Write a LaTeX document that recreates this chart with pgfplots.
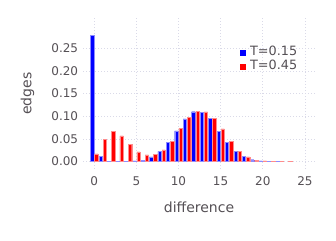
\documentclass[border=0pt]{standalone}
\usepackage{pgfplots}
\pgfplotsset{compat=1.18}
\usepackage{fontspec}
\setmainfont{DejaVu Sans}
\definecolor{txt}{RGB}{85,80,85}
\definecolor{grd}{RGB}{218,218,232}
\begin{document}
\begin{tikzpicture}
\useasboundingbox (-83pt,-71pt) rectangle (253pt,169pt);
\begin{axis}[
  at={(0,0)}, anchor=south west,
  scale only axis, width=232pt, height=151pt,
  xmin=-1.33, xmax=26.2, ymin=-0.0166, ymax=0.317,
  axis line style={draw=none},
  major tick length=0pt,
  xtick={0,5,...,25}, ytick={0,0.05,0.1,0.15,0.2,0.25},
  /pgf/number format/assume math mode=true,
  yticklabel style={/pgf/number format/fixed,/pgf/number format/fixed zerofill,/pgf/number format/precision=2},
  xticklabel style={inner sep=0pt, anchor=north, yshift=-7.5pt},
  yticklabel style={inner sep=0pt, anchor=east, xshift=-4.7pt},
  ticklabel style={font=\fontsize{12}{14}\selectfont, text=txt},
  grid=major, grid style={dash pattern=on 1pt off 2pt, grd, line width=0.7pt},
  xlabel={difference}, ylabel={edges},
  label style={font=\fontsize{14}{16}\selectfont, text=txt},
  xlabel style={at={([yshift=-38.5pt]axis description cs:0.5,0)}, anchor=center},
  ylabel style={at={([xshift=-55.5pt]axis description cs:0,0.5)}, anchor=center, rotate=0},
  legend style={at={(0.677,0.815)}, anchor=north west, draw=none, fill=none,
    font=\fontsize{12.8}{14}\selectfont, text=txt, inner sep=0pt, row sep=1.3pt,
    /tikz/every odd column/.append style={column sep=4.5pt},
    nodes={inner sep=0.5pt, text height=9.2pt, text depth=2.5pt}},
  legend cell align=left,
]
\addplot[ybar, bar width=0.4, bar shift=-0.25, fill=blue, draw=blue!45, line width=0.3pt,
  legend image code/.code={\fill[blue] (0pt,-2.3pt) rectangle (4.6pt,2.3pt);}]
coordinates {
(0,0.279) (1,0.0115) (2,0.0005) (3,0.0003) (4,0.0003) (5,0.0012) (6,0.003) (7,0.010)
(8,0.0225) (9,0.0425) (10,0.0675) (11,0.094) (12,0.110) (13,0.108) (14,0.0947)
(15,0.0667) (16,0.0417) (17,0.0218) (18,0.0115) (19,0.004) (20,0.0015) (21,0.0005) (22,0.0002)
};
\addlegendentry{T=0.15}
\addplot[ybar, bar width=0.4, bar shift=0.25, fill=red, draw=red!45, line width=0.3pt,
  legend image code/.code={\fill[red] (0pt,-2.3pt) rectangle (4.6pt,2.3pt);}]
coordinates {
(0,0.0166) (1,0.049) (2,0.066) (3,0.0564) (4,0.038) (5,0.021) (6,0.0144) (7,0.016)
(8,0.0254) (9,0.044) (10,0.073) (11,0.097) (12,0.111) (13,0.1095) (14,0.0955)
(15,0.072) (16,0.044) (17,0.023) (18,0.010) (19,0.003) (20,0.0015) (21,0.0007) (22,0.0004) (23,0.0002)
};
\addlegendentry{T=0.45}
\end{axis}
\end{tikzpicture}
\end{document}
